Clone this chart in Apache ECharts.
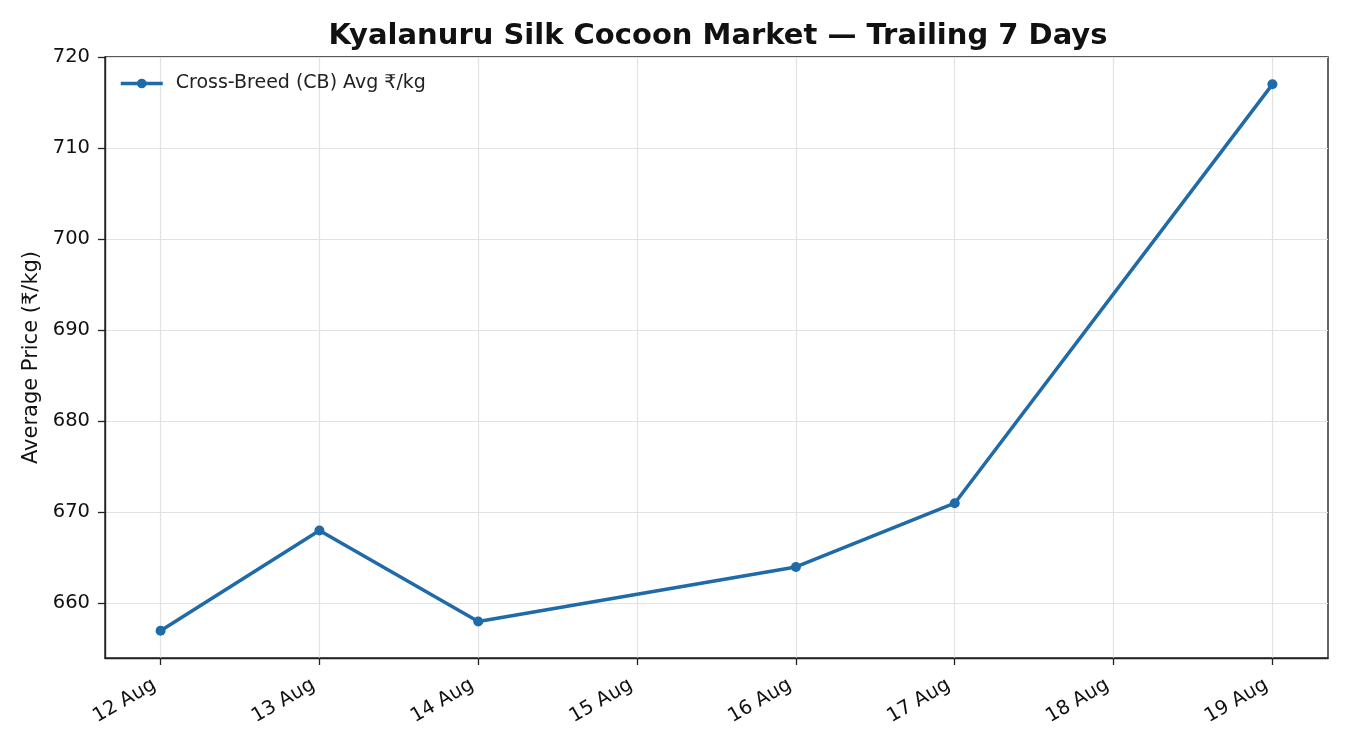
<!DOCTYPE html>
<html><head><meta charset="utf-8">
<script src="https://cdn.jsdelivr.net/npm/echarts@6/dist/echarts.min.js"></script>
<style>html,body{margin:0;padding:0;background:#fff}#c{width:1350px;height:750px}</style>
</head><body><div id="c"></div>
<script>
const dayNums = [12, 13, 14, 15, 16, 17, 18, 19];
const dayLabels = ["12 Aug", "13 Aug", "14 Aug", "15 Aug", "16 Aug", "17 Aug", "18 Aug", "19 Aug"];
const obsDays = [12, 13, 14, 16, 17, 19];
const cbPrice = [657, 668, 658, 664, 671, 717];
const yTicks = [660, 670, 680, 690, 700, 710, 720];
const seriesName = "Cross-Breed (CB) Avg ₹/kg";

const font = "DejaVu Sans";
const chart = echarts.init(document.getElementById('c'));
chart.setOption({
  animation: false,
  backgroundColor: '#fff',
  textStyle: {fontFamily: font},
  title: {
    text: 'Kyalanuru Silk Cocoon Market — Trailing 7 Days',
    left: 713, top: 17, textAlign: 'center',
    textStyle: {fontFamily: font, fontWeight: 'bold', fontSize: 29, color: '#111'}
  },
  legend: {
    left: 114, top: 69, orient: 'vertical',
    itemWidth: 42, itemHeight: 12,
    lineStyle: {width: 3.5},
    textStyle: {fontFamily: font, fontSize: 19, color: '#222', padding: [0, 0, 0, 8]},
    data: [seriesName]
  },
  grid: {left: 105, right: 22, top: 57, bottom: 92, show: true, borderColor: '#222', borderWidth: 1.4},
  xAxis: {
    type: 'value', min: 11.65, max: 19.35,
    axisLine: {show: true, lineStyle: {color: '#222', width: 1.4}},
    axisTick: {show: true, length: 7, lineStyle: {color: '#222', width: 1.3}, customValues: dayNums},
    axisLabel: {
      customValues: dayNums, rotate: 30, fontSize: 19.5, color: '#111', margin: 22, fontFamily: font,
      padding: [0, 7, 0, 0],
      formatter: v => dayLabels[dayNums.indexOf(Math.round(v))] || ''
    },
    splitLine: {show: true, lineStyle: {color: '#e2e2e2', width: 1.2}}
  },
  yAxis: {
    type: 'value', min: 654, max: 720,
    name: 'Average Price (₹/kg)', nameLocation: 'middle', nameGap: 61,
    nameTextStyle: {fontFamily: font, fontSize: 21, color: '#111'},
    axisLine: {show: true, lineStyle: {color: '#222', width: 1.4}},
    axisTick: {show: true, length: 7, lineStyle: {color: '#222', width: 1.3}, customValues: yTicks},
    axisLabel: {customValues: yTicks, fontSize: 19.5, color: '#111', margin: 15, fontFamily: font},
    splitLine: {show: true, lineStyle: {color: '#e2e2e2', width: 1.2}}
  },
  series: [{
    name: seriesName, type: 'line',
    data: obsDays.map((d, i) => [d, cbPrice[i]]),
    symbol: 'circle', symbolSize: 10,
    lineStyle: {color: '#1f6aa8', width: 3.5},
    itemStyle: {color: '#1f6aa8'}
  }]
});
</script></body></html>
